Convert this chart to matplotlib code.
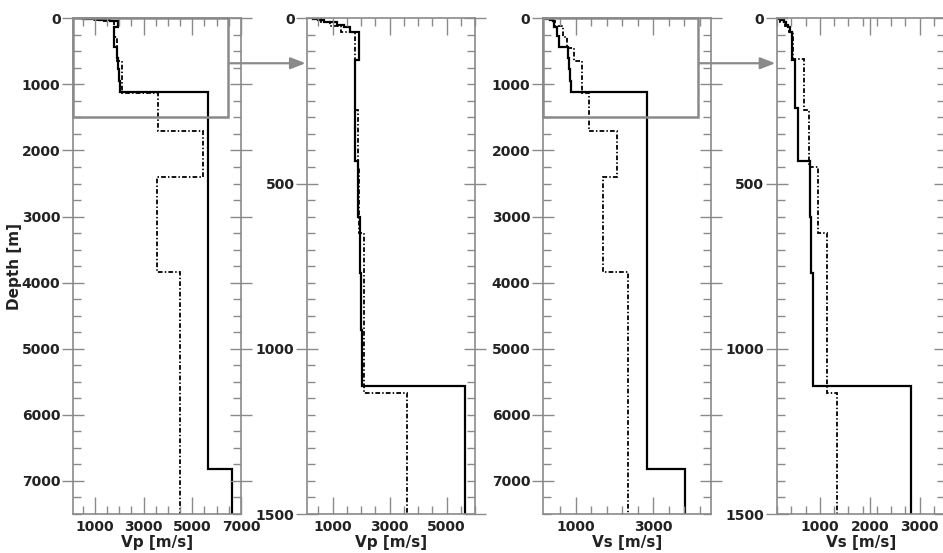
import numpy as np
import matplotlib
matplotlib.use('Agg')
import matplotlib.pyplot as plt
from matplotlib.patches import Rectangle, ConnectionPatch
from matplotlib.ticker import MultipleLocator, FixedLocator

# layer tops [m] and velocities [m/s], solid model
depth_solid = [0, 2, 6, 11, 21, 26, 41, 127, 270, 433, 600, 772, 943, 1112, 6815]
vp_solid = [300, 500, 700, 1150, 1400, 1600, 1930, 1770, 1800, 1900, 1960, 2000, 2040, 5650, 6650]
vs_solid = [180, 230, 280, 330, 370, 400, 440, 510, 560, 805, 830, 855, 870, 2830, 3830]

# dash-dot model
depth_dash = [0, 10, 24, 40, 122, 277, 450, 651, 1135, 1705, 2408, 3836]
vp_dash = [600, 900, 1300, 1770, 1800, 1900, 1910, 2110, 3600, 5420, 3550, 4500]
vs_dash = [200, 300, 380, 460, 675, 775, 960, 1150, 1350, 2060, 1710, 2350]

max_depth = 7500
zoom_depth = 1500

xlims = [(100, 7000), (100, 6000), (140, 4490), (135, 3500)]
xticks = [[1000, 3000, 5000, 7000], [1000, 3000, 5000], [1000, 3000], [1000, 2000, 3000]]
xminor = [np.arange(500, 7001, 500), np.arange(500, 6001, 500),
          np.arange(600, 4490, 400), 1000 + np.arange(-3, 9) * 2000 / 7]
xlabels = ['Vp [m/s]', 'Vp [m/s]', 'Vs [m/s]', 'Vs [m/s]']
box_right = [6450, 4150]

plt.rcParams['font.family'] = 'DejaVu Sans'
plt.rcParams['font.weight'] = 'bold'
plt.rcParams['axes.labelweight'] = 'bold'

gray = '#8a8a8a'
txt = '#222222'
dashdot = (0, (2.6, 1.2, 0.8, 1.2))

fig = plt.figure(figsize=(9.43, 5.53), dpi=100)
lefts = [73, 307, 542.7, 776.7]
axes = [fig.add_axes([l / 943, 1 - 514 / 553, 168 / 943, (514 - 18.3) / 553]) for l in lefts]

models = [(vp_solid, vp_dash), (vp_solid, vp_dash), (vs_solid, vs_dash), (vs_solid, vs_dash)]
for i, ax in enumerate(axes):
    solid, dash = models[i]
    bottom = max_depth if i % 2 == 0 else zoom_depth
    ax.stairs(solid, depth_solid + [max_depth], orientation='horizontal', baseline=None,
              color='black', lw=1.6)
    ax.stairs(dash, depth_dash + [max_depth], orientation='horizontal', baseline=None,
              color='black', lw=1.3, linestyle=dashdot)
    ax.set_xlim(*xlims[i])
    ax.set_ylim(bottom, 0)
    ax.set_xticks(xticks[i])
    ax.xaxis.set_minor_locator(FixedLocator(xminor[i]))
    if i % 2 == 0:
        ax.yaxis.set_major_locator(MultipleLocator(1000))
        ax.yaxis.set_minor_locator(MultipleLocator(250))
    else:
        ax.yaxis.set_major_locator(MultipleLocator(500))
        ax.yaxis.set_minor_locator(MultipleLocator(50))
    ax.set_xlabel(xlabels[i], fontsize=11, color=txt, labelpad=1)
    for s in ax.spines.values():
        s.set_color(gray)
        s.set_linewidth(1.2)
    ax.tick_params(axis='x', which='both', direction='in', top=True, bottom=True,
                   color=gray, labelcolor=txt, labelsize=10, pad=4)
    ax.tick_params(axis='x', which='major', length=12, width=1)
    ax.tick_params(axis='x', which='minor', length=6, width=1)
    ax.tick_params(axis='y', which='both', left=True, right=True, color=gray,
                   labelcolor=txt, labelsize=10)
    ax.tick_params(axis='y', which='major', direction='inout', length=16, width=1, pad=1)
    ax.tick_params(axis='y', which='minor', direction='in', length=6, width=1)

axes[0].set_ylabel('Depth [m]', fontsize=11, color=txt, labelpad=0)

# zoom boxes and arrows
for k, (a, b) in enumerate([(axes[0], axes[1]), (axes[2], axes[3])]):
    x0 = a.get_xlim()[0]
    a.add_patch(Rectangle((x0, 0), box_right[k] - x0, zoom_depth, fill=False,
                          edgecolor=gray, lw=1.8, clip_on=False, zorder=5))
    arrow_depth = 680
    xr = a.get_xlim()[1]
    con = ConnectionPatch(xyA=(box_right[k] + 0.012 * (xr - x0), arrow_depth), coordsA=a.transData,
                          xyB=(0, 1 - arrow_depth / max_depth), coordsB=b.transAxes,
                          arrowstyle='-|>,head_length=0.9,head_width=0.35', color=gray, lw=1.6,
                          shrinkA=0, shrinkB=1)
    fig.add_artist(con)

fig.savefig('out.png', dpi=100)
